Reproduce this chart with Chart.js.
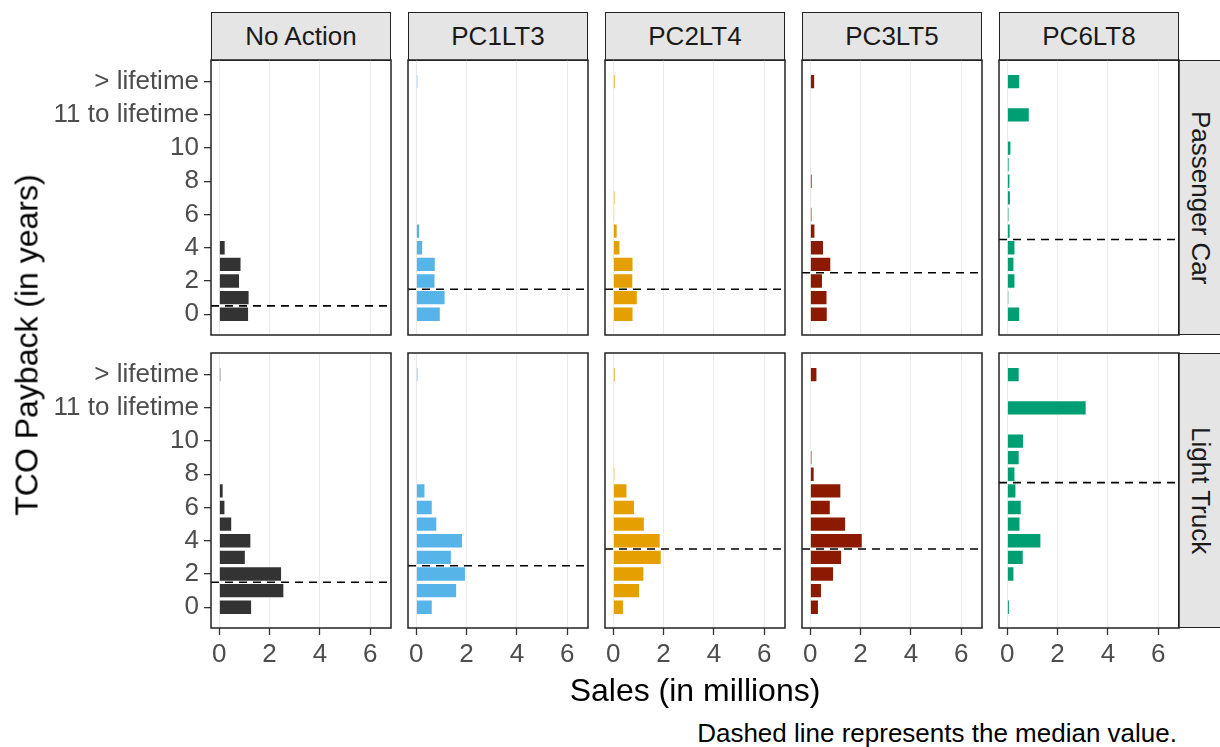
<!DOCTYPE html>
<html>
<head>
<meta charset="utf-8">
<script src="https://cdn.jsdelivr.net/npm/chart.js@4.4.1/dist/chart.umd.min.js"></script>
<style>
  body { margin: 0; width: 1220px; height: 747px; background: #fff; position: relative; overflow: hidden;
         font-family: "Liberation Sans", Arial, sans-serif; }
  canvas { position: absolute; }
  .strip { position: absolute; background: #e5e5e5; border: 1.4px solid #222; box-sizing: border-box;
           color: #1a1a1a; font-size: 26px; display: flex; align-items: center; justify-content: center; }
  .strip.side span { writing-mode: vertical-rl; }
  .txt { position: absolute; white-space: nowrap; color: #000; }
</style>
</head>
<body>
<script>
// facetas
const scenarios = ['No Action', 'PC1LT3', 'PC2LT4', 'PC3LT5', 'PC6LT8'];
const vehicleTypes = ['Passenger Car', 'Light Truck'];
const scenarioColors = ['#333333', '#56B4E9', '#E69F00', '#8B1A00', '#009E73'];

// posicao de cada barra no eixo y (0..10 anos, depois "11 to lifetime" e "> lifetime")
const paybackPos = [0, 1, 2, 3, 4, 5, 6, 7, 8, 9, 10, 12, 14];
const yTickVals = [0, 2, 4, 6, 8, 10, 12, 14];
const yTickLabels = ['0', '2', '4', '6', '8', '10', '11 to lifetime', '> lifetime'];
const xTickVals = [0, 2, 4, 6];

// vendas (milhoes) - Passenger Car, na ordem de paybackPos
const pcNoAction = [1.18, 1.2, 0.82, 0.88, 0.25, 0, 0, 0, 0, 0, 0, 0, 0];
const pcPC1LT3 = [0.97, 1.16, 0.76, 0.77, 0.27, 0.15, 0, 0, 0, 0, 0, 0, 0.07];
const pcPC2LT4 = [0.8, 0.97, 0.79, 0.8, 0.28, 0.17, 0.06, 0.08, 0, 0, 0, 0, 0.09];
const pcPC3LT5 = [0.69, 0.68, 0.5, 0.83, 0.54, 0.2, 0.08, 0.03, 0.09, 0, 0, 0, 0.19];
const pcPC6LT8 = [0.51, 0.07, 0.32, 0.28, 0.32, 0.13, 0.08, 0.14, 0.12, 0.09, 0.16, 0.89, 0.51];

// vendas (milhoes) - Light Truck
const ltNoAction = [1.3, 2.58, 2.49, 1.05, 1.27, 0.51, 0.24, 0.17, 0, 0, 0, 0, 0.07];
const ltPC1LT3 = [0.65, 1.62, 1.97, 1.41, 1.85, 0.83, 0.65, 0.36, 0, 0, 0, 0, 0.08];
const ltPC2LT4 = [0.42, 1.06, 1.23, 1.92, 1.88, 1.25, 0.86, 0.56, 0.07, 0, 0, 0, 0.09];
const ltPC3LT5 = [0.34, 0.46, 0.94, 1.26, 2.08, 1.42, 0.81, 1.23, 0.17, 0.08, 0, 0, 0.28];
const ltPC6LT8 = [0.1, 0, 0.28, 0.65, 1.35, 0.52, 0.57, 0.36, 0.32, 0.49, 0.66, 3.15, 0.49];

// mediana (linha tracejada)
const pcMedian = [0.5, 1.5, 1.5, 2.5, 4.5];
const ltMedian = [1.5, 2.5, 3.5, 3.5, 7.5];

const salesGrid = [
    [pcNoAction, pcPC1LT3, pcPC2LT4, pcPC3LT5, pcPC6LT8],
    [ltNoAction, ltPC1LT3, ltPC2LT4, ltPC3LT5, ltPC6LT8]
];
const medianGrid = [pcMedian, ltMedian];

const xMin = -0.325, xMax = 6.825;
const yMin = -1.25, yMax = 15.3;

// moldura do painel
const boxPlugin = {
    id: 'box',
    afterDraw(chart) {
        const a = chart.chartArea, ctx = chart.ctx;
        ctx.save();
        ctx.strokeStyle = '#222';
        ctx.lineWidth = 1.5;
        ctx.strokeRect(a.left, a.top, a.right - a.left, a.bottom - a.top);
        ctx.restore();
    }
};

const panelW = 180, panelH = 275;
const panelTops = [60, 353];
function panelLeft(col) { return 211 + col * 197; }

function makePanel(row, col) {
    const isLeft = col === 0, isBottom = row === 1;
    const pad = 2;
    const axisW = isLeft ? 171 : 0;
    const axisH = isBottom ? 42 : 0;

    const canvas = document.createElement('canvas');
    canvas.width = axisW + panelW + 2 * pad;
    canvas.height = panelH + axisH + 2 * pad;
    canvas.style.left = (panelLeft(col) - axisW - pad) + 'px';
    canvas.style.top = (panelTops[row] - pad) + 'px';
    document.body.appendChild(canvas);

    const values = salesGrid[row][col];
    const med = medianGrid[row][col];

    new Chart(canvas.getContext('2d'), {
        type: 'bar',
        data: {
            datasets: [{
                type: 'line',
                data: [{ x: xMin, y: med }, { x: xMax, y: med }],
                borderColor: '#000',
                borderWidth: 1.6,
                borderDash: [8, 6],
                pointRadius: 0,
                order: 0
            }, {
                data: paybackPos.map((p, i) => ({ x: values[i], y: p })),
                backgroundColor: scenarioColors[col],
                borderColor: '#ffffff',
                borderWidth: 0.8,
                categoryPercentage: 1,
                barPercentage: 0.9,
                order: 1
            }]
        },
        options: {
            indexAxis: 'y',
            responsive: false,
            animation: false,
            layout: { padding: pad },
            plugins: { legend: { display: false }, tooltip: { enabled: false } },
            scales: {
                x: {
                    type: 'linear',
                    min: xMin,
                    max: xMax,
                    afterBuildTicks: s => { s.ticks = xTickVals.map(v => ({ value: v })); },
                    afterFit: s => { s.height = axisH; s.paddingLeft = 0; s.paddingRight = 0; },
                    border: { display: false },
                    grid: {
                        color: '#ebebeb',
                        lineWidth: 1,
                        drawTicks: isBottom,
                        tickLength: 7,
                        tickColor: '#333',
                        tickWidth: 1.3
                    },
                    ticks: {
                        display: isBottom,
                        autoSkip: false,
                        padding: 4,
                        color: '#4d4d4d',
                        font: { family: 'Liberation Sans', size: 26 },
                        maxRotation: 0
                    }
                },
                y: {
                    type: 'linear',
                    display: isLeft,
                    offset: false,
                    min: yMin,
                    max: yMax,
                    afterBuildTicks: s => { s.ticks = yTickVals.map(v => ({ value: v })); },
                    afterFit: s => { s.width = axisW; s.paddingTop = 0; s.paddingBottom = 0; },
                    border: { display: false },
                    grid: {
                        offset: false,
                        drawOnChartArea: false,
                        tickLength: 7,
                        color: '#333',
                        lineWidth: 1.3
                    },
                    ticks: {
                        autoSkip: false,
                        padding: 5,
                        color: '#4d4d4d',
                        font: { family: 'Liberation Sans', size: 26 },
                        callback: v => yTickLabels[yTickVals.indexOf(v)]
                    }
                }
            }
        },
        plugins: [boxPlugin]
    });
}

function addDiv(cls, text, css) {
    const d = document.createElement('div');
    d.className = cls;
    const s = document.createElement('span');
    s.textContent = text;
    d.appendChild(s);
    Object.assign(d.style, css);
    document.body.appendChild(d);
    return d;
}

// titulos das colunas
scenarios.forEach((name, c) => {
    addDiv('strip', name, { left: panelLeft(c) + 'px', top: '12px', width: panelW + 'px', height: '49px' });
});
// titulos das linhas
vehicleTypes.forEach((name, r) => {
    addDiv('strip side', name, { left: '1178px', top: panelTops[r] + 'px', width: '44px', height: panelH + 'px' });
});

for (let r = 0; r < 2; r++) {
    for (let c = 0; c < 5; c++) {
        makePanel(r, c);
    }
}

// titulos dos eixos e nota
addDiv('txt', 'Sales (in millions)', { left: '695px', top: '690px', fontSize: '32px', transform: 'translate(-50%, -50%)' });
addDiv('txt', 'TCO Payback (in years)', { left: '27px', top: '345px', fontSize: '32px', transform: 'translate(-50%, -50%) rotate(-90deg)' });
addDiv('txt', 'Dashed line represents the median value.', { right: '43px', top: '733px', fontSize: '26px', transform: 'translateY(-50%)' });
</script>
</body>
</html>
